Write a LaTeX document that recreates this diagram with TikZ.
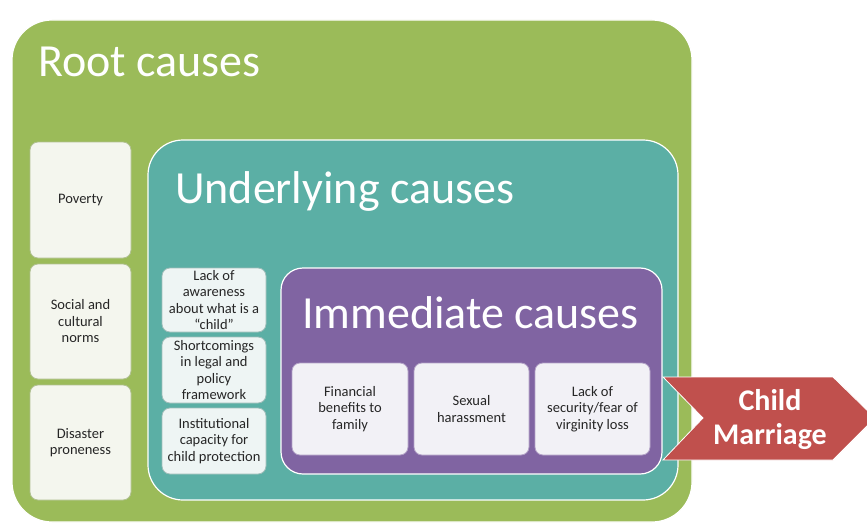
\documentclass[tikz,border=0pt]{standalone}
\usepackage{fontspec}
\setmainfont{Carlito}
\usetikzlibrary{positioning}
\definecolor{rootgreen}{HTML}{9BBB59}
\definecolor{underteal}{HTML}{5BAFA5}
\definecolor{immpurple}{HTML}{8064A2}
\definecolor{cmred}{HTML}{C0504D}
\definecolor{rootfill}{HTML}{F4F6EE}
\definecolor{underfill}{HTML}{EEF5F4}
\definecolor{immfill}{HTML}{F2F1F6}

\tikzset{
	bigbox/.style={rectangle, inner sep=0pt, draw=white, line width=1.2pt},
	titletext/.style={anchor=base west, text=white, font=\fontsize{46}{50}\selectfont, inner sep=0pt},
	causebox/.style={rectangle, rounded corners=8pt, inner sep=1pt, align=center,
		font=\fontsize{14.5}{16.5}\selectfont, text=black!85, line width=0.8pt}
}

\begin{document}
\begin{tikzpicture}[x=1pt,y=-1pt]
		%%%%% FRAME %%%%%
		\useasboundingbox[fill=white] (0,0) rectangle (867,527);
		
		%%%%% ROOT CAUSES %%%%%
		\node[bigbox, fill=rootgreen, rounded corners=40pt, minimum width=680pt, minimum height=502pt] (root) at (352,271) {};
		\node[titletext] (roottitle) at (38,76) {Root causes};
		
		\node[causebox, fill=rootfill, draw=rootgreen!80!black!60, minimum width=101pt, minimum height=116pt] (poverty) at (80.5,200) {Poverty};
		\node[causebox, fill=rootfill, draw=rootgreen!80!black!60, minimum width=101pt, minimum height=115pt] (norms) at (80.5,321.5) {Social and\\cultural\\norms};
		\node[causebox, fill=rootfill, draw=rootgreen!80!black!60, minimum width=101pt, minimum height=115pt] (disaster) at (80.5,442.5) {Disaster\\proneness};
		
		%%%%% UNDERLYING CAUSES %%%%%
		\node[bigbox, fill=underteal, rounded corners=35pt, minimum width=530pt, minimum height=360pt] (under) at (413,320) {};
		\node[titletext] (undertitle) at (175,203) {Underlying causes};
		
		\node[causebox, fill=underfill, draw=underteal!70!black!50, minimum width=104pt, minimum height=64pt] (awareness) at (214,300) {Lack of\\awareness\\about what is a\\“child”};
		\node[causebox, fill=underfill, draw=underteal!70!black!50, minimum width=104pt, minimum height=66pt] (legal) at (214,370) {Shortcomings\\in legal and\\policy\\framework};
		\node[causebox, fill=underfill, draw=underteal!70!black!50, minimum width=104pt, minimum height=66pt] (capacity) at (214,441) {Institutional\\capacity for\\child protection};
		
		%%%%% IMMEDIATE CAUSES %%%%%
		\node[bigbox, fill=immpurple, rounded corners=22pt, minimum width=381pt, minimum height=206pt] (imm) at (471.5,371) {};
		\node[titletext] (immtitle) at (302,328) {Immediate causes};
		
		\node[causebox, fill=immfill, draw=immpurple!60, minimum width=116pt, minimum height=92pt] (financial) at (350,409) {Financial\\benefits to\\family};
		\node[causebox, fill=immfill, draw=immpurple!60, minimum width=115pt, minimum height=92pt] (harass) at (471.5,409) {Sexual\\harassment};
		\node[causebox, fill=immfill, draw=immpurple!60, minimum width=115pt, minimum height=92pt] (security) at (592.5,409) {Lack of\\security/fear of\\virginity loss};
		
		%%%%% CHILD MARRIAGE %%%%%
		\draw[fill=cmred, draw=white, line width=0.8pt] (663,377) -- (833,377) -- (875,418) -- (833,460) -- (663,460) -- (703,418) -- cycle;
		\node[align=center, text=white, font=\fontsize{30}{34}\selectfont\bfseries] (marriage) at (770,420) {Child\\Marriage};
		
		%%%%% END %%%%%
	\end{tikzpicture}
\end{document}
